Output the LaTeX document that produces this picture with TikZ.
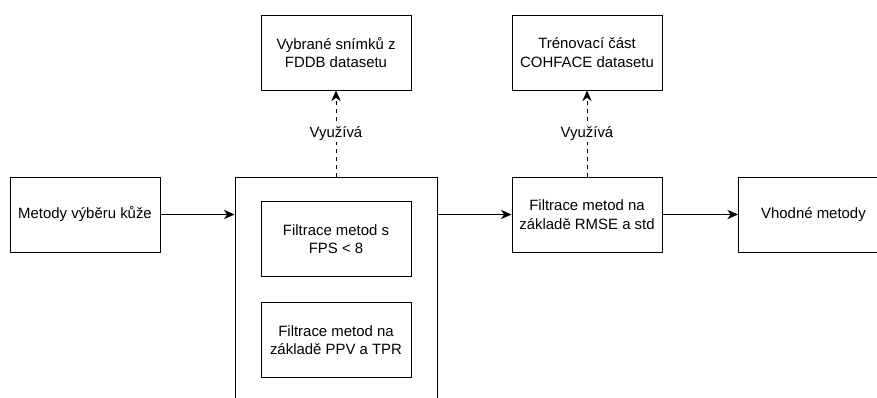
\documentclass[tikz,border=0pt]{standalone}
\usepackage{fontspec}
\setmainfont{Liberation Sans}
\usetikzlibrary{arrows.meta}
\begin{document}
\begin{tikzpicture}[x=0.75pt,y=-0.75pt,
  every node/.style={font=\fontsize{11.2}{14}\selectfont, align=center},
  block/.style={draw, line width=0.7pt, minimum width=112.5pt, minimum height=56.25pt, inner sep=0pt},
  flow/.style={line width=0.7pt, -{Stealth[length=8pt,width=7pt,inset=2.5pt]}},
  uses/.style={flow, dash pattern=on 3pt off 3pt},
  tag/.style={fill=white, inner sep=1pt}]
  % canvas and crop
  \clip (0,0) rectangle (877,397);
  \fill[white] (0,0) rectangle (877,397);

  % top row: data sources
  \node[block] (fddb) at (336,52.5) {Vybrané snímků z\\FDDB datasetu};
  \node[block] (cohface) at (587,52.5) {Trénovací část\\COHFACE datasetu};

  % main row
  \node[block] (skin) at (85,214.5) {Metody výběru kůže};
  \node[block, minimum width=151.5pt, minimum height=187.5pt, anchor=north] (filter) at (336,177) {};
  \node[block] (fps) at (336,239) {Filtrace metod s\\FPS < 8};
  \node[block] (ppv) at (336,340) {Filtrace metod na\\základě PPV a TPR};
  \node[block] (rmse) at (587,214.5) {Filtrace metod na\\základě RMSE a std};
  \node[block, anchor=west] (good) at (738,214.5) {Vhodné metody};

  % connectors
  \draw[flow] (skin.east) -- (skin.east -| filter.west);
  \draw[flow] (rmse.west -| filter.east) -- (rmse.west);
  \draw[flow] (rmse.east) -- (good.west);
  \draw[uses] (filter.north) -- node[tag] {Využívá} (fddb.south);
  \draw[uses] (rmse.north) -- node[tag] {Využívá} (cohface.south);
\end{tikzpicture}
\end{document}
